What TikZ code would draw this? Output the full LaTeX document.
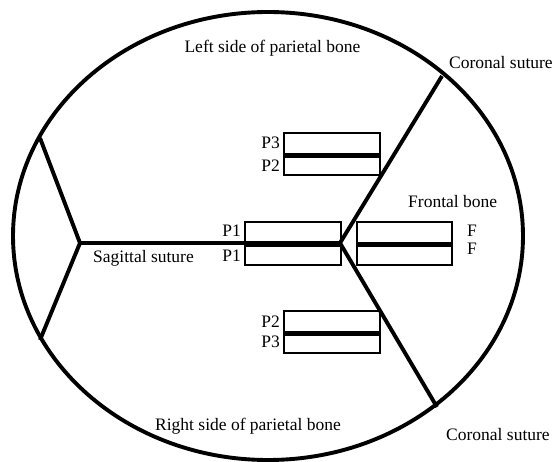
\documentclass[tikz,border=0pt]{standalone}
\usepackage{fontspec}
\setmainfont{Liberation Serif}
\begin{document}
\begin{tikzpicture}[x=1pt,y=-1pt,
  bone/.style={line width=3.9pt},
  box/.style={draw,line width=1.7pt,minimum width=96pt,minimum height=21.5pt,inner sep=0,anchor=north west},
  divider/.style={line width=5pt},
  lbl/.style={inner sep=0,font=\fontsize{17.5}{20}\selectfont}]
\useasboundingbox (0,0) rectangle (557,462);

% skull outline
\draw[bone] (268,236) ellipse [x radius=255, y radius=224];

% suture junctions
\coordinate (bregma) at (340,243);
\coordinate (lambda) at (80,243);
\coordinate (corU) at (442,76);
\coordinate (corD) at (437,407);
\coordinate (lamU) at (40,138);
\coordinate (lamD) at (40,340);

% sagittal, coronal and lambdoid sutures
\draw[bone] (lambda) -- (bregma);
\draw[bone] (bregma) -- (corU);
\draw[bone] (bregma) -- (corD);
\draw[bone,line join=miter] (lamU) -- (lambda) -- (lamD);

% sample strips
\node[box] (p3a) at (283,132) {};
\node[box] (p2a) at (283,153) {};
\draw[divider] (p3a.south west) -- (p3a.south east);

\node[box] (p1a) at (244,221.5) {};
\node[box] (p1b) at (244,243) {};
\draw[divider] (p1a.south west) -- (p1a.south east);

\node[box,minimum width=95pt] (fa) at (356,221.5) {};
\node[box,minimum width=95pt] (fb) at (356,243) {};
\draw[divider] (fa.south west) -- (fa.south east);

\node[box] (p2b) at (283,310) {};
\node[box] (p3b) at (283,331) {};
\draw[divider] (p2b.south west) -- (p2b.south east);

% labels
\node[lbl,anchor=base] (tl) at (272.5,53) {Left side of parietal bone};
\node[lbl,anchor=base] (tr) at (248,430) {Right side of parietal bone};
\node[lbl,anchor=base west] (cu) at (449,69) {Coronal suture};
\node[lbl,anchor=base west] (cd) at (446,440) {Coronal suture};
\node[lbl,anchor=base west] (fr) at (408,208) {Frontal bone};
\node[lbl,anchor=base west] (sg) at (93,263) {Sagittal suture};

\node[lbl,anchor=base east] (l3a) at (280,149) {P3};
\node[lbl,anchor=base east] (l2a) at (280,172) {P2};
\node[lbl,anchor=base east] (l1a) at (241,237) {P1};
\node[lbl,anchor=base east] (l1b) at (241,262) {P1};
\node[lbl,anchor=base west] (lfa) at (467,237) {F};
\node[lbl,anchor=base west] (lfb) at (467,255) {F};
\node[lbl,anchor=base east] (l2b) at (280,327) {P2};
\node[lbl,anchor=base east] (l3b) at (280,348) {P3};
\end{tikzpicture}
\end{document}
